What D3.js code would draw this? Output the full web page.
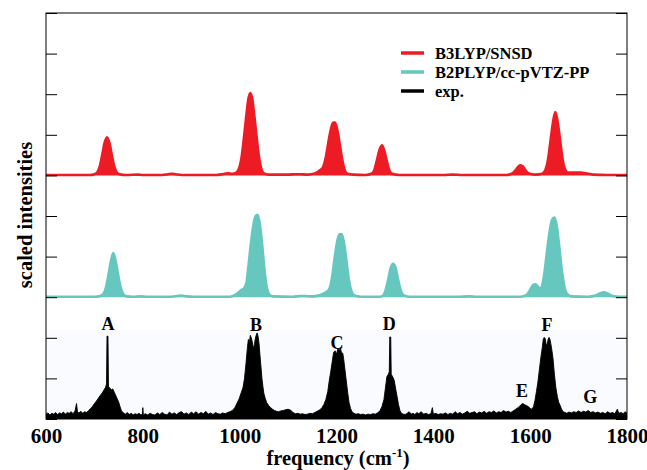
<!DOCTYPE html>
<html>
  <head>
    <meta charset="utf-8">
    <title>scaled IR spectra</title>
    <script src="https://d3js.org/d3.v7.min.js" charset="utf-8"></script>
    <style>
      html, body { margin: 0; padding: 0; background: #fff; }
      svg { display: block; }
      text { font-family: "Liberation Serif", "Times New Roman", serif; font-weight: bold; fill: #000; }
    </style>
  </head>
  <body>
    <div id="chart"></div>
    <script>
      // data: [frequency in cm-1, intensity]
      var b3lypSpec = [[600,.01],[650,.01],[690,.01],[700,.03],[706,.08],[711,.22],[716,.5],[721,.8],[726,.94],[731,.8],[736,.5],[741,.22],[746,.08],[752,.03],[765,.01],[790,.02],[800,.01],[840,.01],[852,.03],[860,.04],[868,.03],[880,.01],[950,.01],[965,.03],[975,.05],[985,.04],[992,.06],[998,.15],[1004,.45],[1009,.95],[1014,1.5],[1018,1.88],[1022,2.03],[1026,1.88],[1030,1.5],[1035,.95],[1040,.45],[1045,.15],[1050,.05],[1060,.02],[1100,.02],[1115,.03],[1125,.03],[1140,.02],[1155,.05],[1165,.12],[1172,.2],[1178,.45],[1183,.8],[1188,1.12],[1193,1.3],[1197,1.3],[1202,1.1],[1207,.75],[1212,.38],[1217,.13],[1223,.04],[1235,.02],[1260,.01],[1272,.04],[1278,.13],[1283,.35],[1288,.6],[1294,.74],[1299,.6],[1304,.35],[1309,.13],[1315,.04],[1330,.01],[1420,.01],[1440,.02],[1460,.01],[1550,.01],[1562,.04],[1570,.13],[1576,.22],[1580,.25],[1585,.22],[1590,.13],[1597,.05],[1610,.02],[1625,.04],[1632,.15],[1637,.4],[1642,.85],[1647,1.3],[1652,1.56],[1657,1.3],[1662,.85],[1667,.4],[1672,.15],[1678,.07],[1690,.07],[1705,.07],[1715,.05],[1730,.02],[1760,.01],[1800,.01]];

      var b2plypSpec = [[600,.01],[700,.01],[712,.03],[719,.09],[724,.25],[729,.55],[734,.88],[739,1.09],[744,.88],[749,.55],[754,.25],[759,.09],[766,.02],[780,.01],[795,.02],[810,.01],[860,.01],[870,.03],[880,.04],[890,.02],[905,.01],[980,.01],[990,.05],[998,.12],[1004,.18],[1009,.22],[1014,.35],[1018,.75],[1023,1.3],[1028,1.75],[1033,2.0],[1037,2.03],[1041,1.85],[1046,1.35],[1051,.7],[1056,.25],[1061,.07],[1068,.02],[1110,.01],[1125,.03],[1135,.03],[1150,.02],[1165,.05],[1178,.12],[1185,.2],[1191,.5],[1196,.95],[1201,1.35],[1206,1.55],[1211,1.55],[1216,1.3],[1221,.85],[1226,.4],[1231,.14],[1237,.04],[1250,.01],[1290,.01],[1297,.05],[1302,.2],[1307,.45],[1312,.72],[1317,.82],[1322,.72],[1327,.45],[1332,.2],[1338,.05],[1350,.01],[1450,.01],[1475,.02],[1490,.01],[1580,.01],[1592,.05],[1600,.18],[1606,.3],[1611,.32],[1616,.26],[1621,.2],[1625,.3],[1630,.65],[1635,1.15],[1640,1.6],[1645,1.9],[1650,1.96],[1655,1.75],[1660,1.25],[1665,.7],[1670,.3],[1676,.08],[1685,.02],[1720,.01],[1735,.04],[1745,.1],[1753,.12],[1760,.09],[1770,.03],[1785,.01],[1800,.01]];

      var expSpec = [[600,.12],[604,.15],[608,.1],[612,.14],[616,.12],[620,.16],[624,.11],[628,.15],[632,.13],[636,.17],[640,.12],[644,.16],[648,.14],[652,.18],[656,.13],[660,.2],[663,.38],[665,.18],[668,.15],[672,.19],[676,.14],[680,.18],[684,.16],[688,.21],[692,.26],[696,.31],[700,.38],[704,.44],[708,.51],[712,.58],[716,.64],[720,.72],[723,.78],[725,.86],[726,2.04],[728,2.04],[729,.8],[732,.76],[735,.72],[738,.74],[741,.66],[744,.58],[747,.5],[750,.42],[753,.3],[756,.2],[760,.15],[764,.12],[768,.16],[772,.11],[776,.14],[780,.1],[784,.13],[788,.11],[792,.14],[796,.1],[799,.12],[800,.28],[801,.1],[805,.13],[810,.1],[815,.14],[820,.11],[825,.1],[830,.15],[835,.11],[840,.16],[845,.12],[850,.1],[855,.17],[860,.12],[865,.15],[870,.11],[875,.16],[880,.18],[885,.12],[890,.15],[895,.11],[900,.17],[905,.13],[910,.18],[915,.12],[920,.16],[925,.13],[930,.19],[935,.12],[940,.15],[945,.11],[950,.16],[955,.13],[960,.12],[965,.15],[970,.13],[975,.16],[980,.18],[985,.21],[990,.28],[995,.4],[999,.5],[1003,.64],[1007,.78],[1010,1.0],[1013,1.36],[1016,1.76],[1018,1.96],[1020,1.88],[1022,2.06],[1024,2.0],[1026,1.9],[1028,1.76],[1030,1.8],[1032,1.96],[1034,2.06],[1036,2.12],[1038,2.04],[1040,1.86],[1042,1.56],[1044,1.28],[1046,1.0],[1048,.8],[1050,.63],[1053,.5],[1056,.4],[1060,.33],[1064,.28],[1068,.24],[1072,.21],[1076,.19],[1080,.18],[1085,.2],[1090,.21],[1095,.23],[1100,.24],[1105,.22],[1110,.16],[1115,.13],[1120,.14],[1125,.12],[1130,.13],[1135,.11],[1140,.12],[1145,.14],[1150,.13],[1155,.16],[1160,.19],[1165,.22],[1170,.28],[1174,.36],[1178,.48],[1182,.68],[1185,.94],[1188,1.16],[1191,1.4],[1194,1.64],[1197,1.68],[1200,1.6],[1203,1.74],[1206,1.68],[1208,1.76],[1210,1.64],[1213,1.62],[1215,1.46],[1217,1.26],[1220,.96],[1223,.66],[1226,.4],[1229,.26],[1232,.18],[1236,.14],[1240,.12],[1245,.13],[1250,.11],[1255,.12],[1260,.1],[1265,.12],[1270,.11],[1275,.13],[1280,.12],[1285,.15],[1290,.21],[1294,.31],[1298,.48],[1301,.76],[1304,1.04],[1307,1.1],[1309,1.16],[1310,2.02],[1312,2.02],[1313,1.1],[1316,1.04],[1319,.96],[1322,.76],[1325,.56],[1328,.36],[1331,.21],[1334,.14],[1338,.12],[1342,.11],[1346,.14],[1350,.18],[1354,.12],[1358,.14],[1362,.11],[1366,.16],[1370,.13],[1375,.18],[1380,.12],[1385,.14],[1390,.11],[1395,.13],[1398,.28],[1400,.12],[1405,.14],[1410,.11],[1415,.13],[1420,.12],[1425,.15],[1430,.11],[1435,.14],[1440,.12],[1445,.18],[1450,.13],[1455,.16],[1460,.12],[1465,.15],[1470,.19],[1475,.14],[1480,.16],[1485,.18],[1490,.13],[1495,.17],[1500,.15],[1505,.19],[1510,.14],[1515,.18],[1520,.16],[1525,.2],[1530,.15],[1535,.18],[1540,.16],[1545,.21],[1550,.17],[1555,.19],[1560,.16],[1565,.2],[1570,.24],[1575,.28],[1580,.34],[1584,.38],[1588,.36],[1592,.33],[1596,.31],[1600,.26],[1604,.24],[1607,.31],[1610,.46],[1613,.68],[1616,.91],[1619,1.21],[1622,1.51],[1625,1.76],[1627,1.96],[1629,2.01],[1631,1.98],[1633,1.84],[1635,1.82],[1637,1.96],[1639,2.01],[1641,1.96],[1644,1.76],[1647,1.51],[1650,1.11],[1653,.78],[1656,.56],[1659,.41],[1662,.33],[1665,.24],[1668,.18],[1672,.16],[1676,.14],[1680,.17],[1685,.15],[1690,.18],[1695,.16],[1700,.2],[1705,.16],[1710,.19],[1715,.17],[1720,.21],[1725,.16],[1730,.18],[1735,.15],[1740,.17],[1745,.14],[1750,.16],[1755,.13],[1760,.18],[1765,.14],[1770,.16],[1775,.13],[1780,.24],[1783,.14],[1788,.16],[1792,.13],[1796,.18],[1800,.14]];

      var xTicks = [600, 800, 1000, 1200, 1400, 1600, 1800];
      var yTicks = [0, 1, 2, 3, 4, 5, 6, 7, 8, 9, 10];
      var seriesNames = ["B3LYP/SNSD", "B2PLYP/cc-pVTZ-PP", "exp."];
      var seriesOffsets = [6, 3, 0];
      // band letters: [letter, frequency, intensity where the letter sits]
      var bandLabels = [["A",728,2.2],["B",1034,2.16],["C",1201,1.73],["D",1309,2.19],["E",1583,.55],["F",1635,2.16],["G",1724,.4]];

      // layout (names avoid window.top)
      var width = 647, height = 470;
      var plotL = 46, plotR = 627, plotT = 13, plotB = 419;
      var colors = ["#ed1c24", "#66c7bf", "#000000"];

      var x = d3.scaleLinear().domain([600, 1800]).range([plotL, plotR]);
      var y = d3.scaleLinear().domain([0, 10]).range([plotB, plotT]);

      var svg = d3.select("#chart").append("svg")
        .attr("width", width).attr("height", height);

      svg.append("defs").append("clipPath").attr("id", "plot")
        .append("rect").attr("x", plotL).attr("y", plotT)
        .attr("width", plotR - plotL).attr("height", plotB - plotT);

      // faint tint behind the experimental trace
      svg.append("rect")
        .attr("x", plotL).attr("y", 330)
        .attr("width", plotR - plotL).attr("height", plotB - 330)
        .attr("fill", "#fafbfe");

      var g = svg.append("g").attr("clip-path", "url(#plot)");

      function drawSpectrum(data, offset, color, curve, lineW) {
        var area = d3.area().curve(curve)
          .x(function(d) { return x(d[0]); })
          .y0(y(offset))
          .y1(function(d) { return y(offset + d[1]); });
        var line = d3.line().curve(curve)
          .x(function(d) { return x(d[0]); })
          .y(function(d) { return y(offset + d[1]); });
        g.append("path").datum(data).attr("d", area).attr("fill", color);
        g.append("path").datum(data).attr("d", line)
          .attr("fill", "none").attr("stroke", color)
          .attr("stroke-width", lineW).attr("stroke-linejoin", "round");
      }

      drawSpectrum(b3lypSpec, seriesOffsets[0], colors[0], d3.curveMonotoneX, 2.6);
      drawSpectrum(b2plypSpec, seriesOffsets[1], colors[1], d3.curveMonotoneX, 2.6);
      drawSpectrum(expSpec, seriesOffsets[2], colors[2], d3.curveLinear, 0.9);

      // frame and y ticks on both sides
      svg.append("rect")
        .attr("x", plotL).attr("y", plotT)
        .attr("width", plotR - plotL).attr("height", plotB - plotT)
        .attr("fill", "none").attr("stroke", "#000").attr("stroke-width", 1);

      svg.append("g").attr("transform", "translate(" + plotL + ",0)")
        .call(d3.axisRight(y).tickValues(yTicks).tickSize(11).tickFormat(""))
        .call(function(a) { a.select(".domain").remove(); });
      svg.append("g").attr("transform", "translate(" + plotR + ",0)")
        .call(d3.axisLeft(y).tickValues(yTicks).tickSize(11).tickFormat(""))
        .call(function(a) { a.select(".domain").remove(); });

      // x tick labels
      var xAxis = svg.append("g").attr("transform", "translate(0," + plotB + ")")
        .call(d3.axisBottom(x).tickValues(xTicks).tickSize(0).tickPadding(0)
          .tickFormat(d3.format("d")));
      xAxis.select(".domain").remove();
      xAxis.selectAll("text")
        .attr("y", 24).attr("dy", null)
        .style("font-family", "'Liberation Serif', serif")
        .style("font-weight", "bold")
        .style("font-size", "21px")
        .attr("fill", "#000");

      // axis titles
      var xt = svg.append("text").attr("x", 338).attr("y", 465)
        .attr("text-anchor", "middle").style("font-size", "20.5px");
      xt.append("tspan").text("frequency (cm");
      xt.append("tspan").text("-1").attr("dy", -8).style("font-size", "13px");
      xt.append("tspan").text(")").attr("dy", 8);

      svg.append("text")
        .attr("transform", "translate(32,215) rotate(-90)")
        .attr("text-anchor", "middle").style("font-size", "20.5px")
        .text("scaled intensities");

      // band letters
      svg.selectAll(".band").data(bandLabels).enter().append("text")
        .attr("class", "band")
        .attr("x", function(d) { return x(d[1]); })
        .attr("y", function(d) { return y(d[2]); })
        .attr("text-anchor", "middle").style("font-size", "18px")
        .text(function(d) { return d[0]; });

      // legend
      var legend = svg.append("g").attr("transform", "translate(401,53)");
      seriesNames.forEach(function(name, i) {
        legend.append("line")
          .attr("x1", 0).attr("x2", 23).attr("y1", i * 19).attr("y2", i * 19)
          .attr("stroke", colors[i]).attr("stroke-width", 3.5);
        legend.append("text")
          .attr("x", 34).attr("y", i * 19 + 5.5)
          .style("font-size", "16.5px").text(name);
      });
    </script>
  </body>
</html>
